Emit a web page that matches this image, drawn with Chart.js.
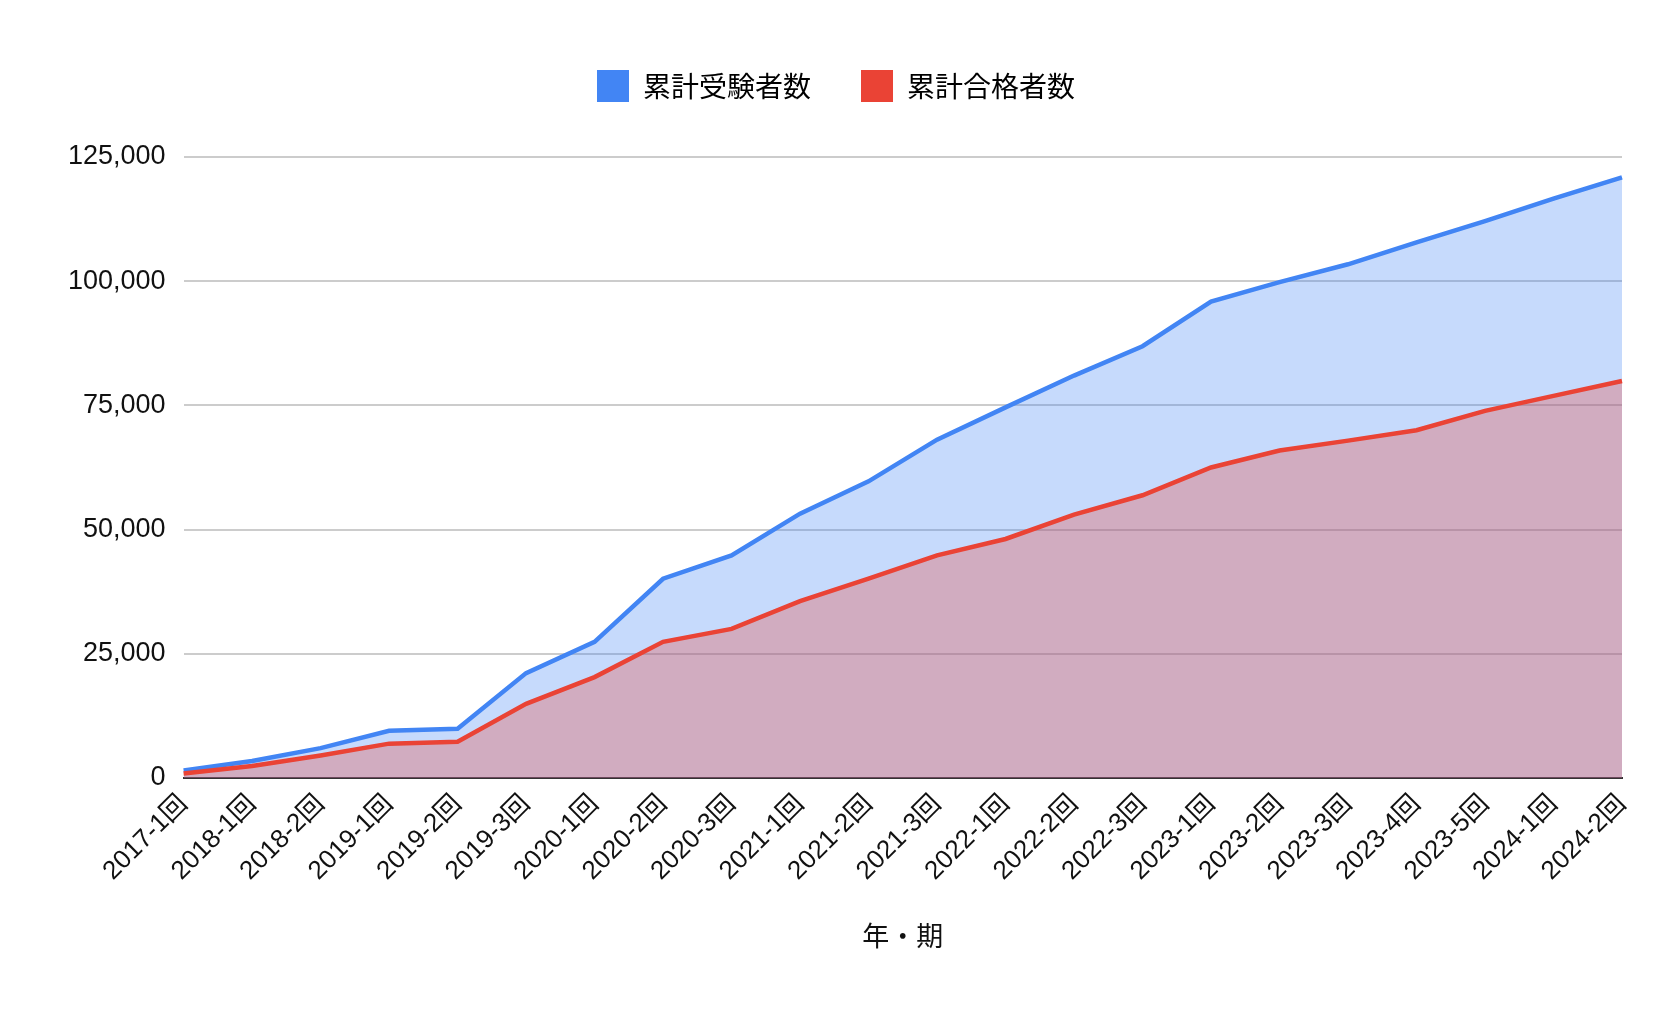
<!DOCTYPE html>
<html><head><meta charset="utf-8">
<script src="https://cdn.jsdelivr.net/npm/chart.js@4"></script>
<style>html,body{margin:0;background:#fff}#w{width:1667px;height:1031px}</style>
</head><body><div id="w"><canvas id="c"></canvas></div>
<script>
const categories=['2017-1回','2018-1回','2018-2回','2019-1回','2019-2回','2019-3回','2020-1回','2020-2回','2020-3回','2021-1回','2021-2回','2021-3回','2022-1回','2022-2回','2022-3回','2023-1回','2023-2回','2023-3回','2023-4回','2023-5回','2024-1回','2024-2回'];
const examinees=[1500,3400,6000,9500,9900,21100,27400,40100,44800,53200,59700,68100,74600,81000,86900,95900,99800,103400,107800,112100,116600,120900];
const passers=[900,2400,4500,6900,7300,14900,20300,27400,30000,35600,40100,44800,48100,53000,56900,62500,65900,67900,70000,73900,76900,79900];
const F='"Liberation Sans", "Noto Sans CJK JP", Arial, sans-serif';
Chart.defaults.font.family=F;
const legendSpace={id:'ls',beforeInit(c){const f=c.legend.fit;c.legend.fit=function(){f.bind(c.legend)();this.height+=45;};}};
new Chart(document.getElementById('c'),{type:'line',plugins:[legendSpace],
data:{labels:categories,datasets:[
{label:'累計受験者数',data:examinees,borderColor:'#4285f4',backgroundColor:'rgba(66,133,244,0.3)',fill:'origin',borderWidth:4.5,pointRadius:0,order:2,tension:0},
{label:'累計合格者数',data:passers,borderColor:'#ea4335',backgroundColor:'rgba(234,67,53,0.3)',fill:'origin',borderWidth:4.5,pointRadius:0,order:1,tension:0}]},
options:{responsive:true,maintainAspectRatio:false,animation:false,
layout:{padding:{left:50,right:45,top:20,bottom:75}},
plugins:{legend:{labels:{font:{size:28,family:'"Noto Sans CJK JP", sans-serif'},color:'#222',boxWidth:32,boxHeight:32,padding:50,
generateLabels:c=>c.data.datasets.map((d,i)=>({text:d.label,fillStyle:d.borderColor,strokeStyle:d.borderColor,lineWidth:0,datasetIndex:i}))}},tooltip:{enabled:false}},
scales:{x:{offset:false,grid:{display:false},border:{color:'#333',width:2},ticks:{maxRotation:45,minRotation:45,font:{size:26},color:'#111',autoSkip:false},
title:{display:true,text:'年・期',font:{size:27,family:'"Noto Sans CJK JP", sans-serif'},color:'#111',padding:{top:30}}},
y:{min:0,max:125000,ticks:{stepSize:25000,font:{size:27},color:'#111',padding:18,callback:v=>v.toLocaleString('en-US')},grid:{color:'#ccc',lineWidth:2,drawTicks:false},border:{display:false}}}}});
</script></body></html>
